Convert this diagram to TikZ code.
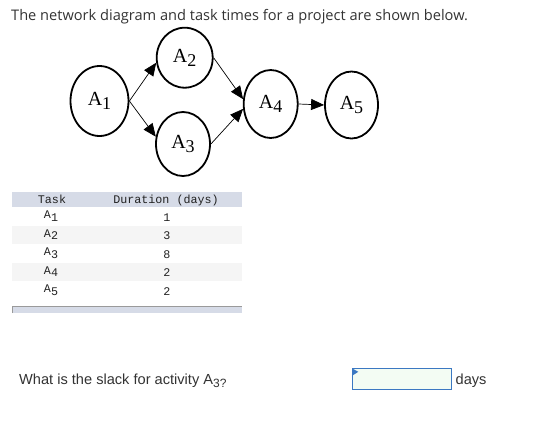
\documentclass[tikz,border=0pt]{standalone}
\usepackage{fontspec}
\setmainfont{Liberation Sans}
\newfontfamily\titlefont{Open Sans}
\newfontfamily\serifA{Liberation Serif}
\newfontfamily\monof{Liberation Mono}
\usetikzlibrary{shapes.geometric,arrows.meta}
\definecolor{txt}{HTML}{333333}
\definecolor{monotxt}{HTML}{222222}
\definecolor{hdr}{HTML}{D6DBE7}
\definecolor{rowgray}{HTML}{F5F5F5}
\definecolor{barline}{HTML}{9A9A9A}
\definecolor{boxblue}{HTML}{3B78C2}
\definecolor{boxgreen}{HTML}{F3FCF3}
\tikzset{
  actnode/.style={ellipse, draw, line width=1.8pt, inner sep=0pt,
    font=\serifA\fontsize{20}{20}\selectfont},
  flow/.style={-{Triangle[length=13pt,width=11pt]}, line width=0.7pt},
  mono/.style={font=\monof\fontsize{11.7}{13}\selectfont, text=monotxt, inner sep=0pt, anchor=base},
  sanstext/.style={font=\fontsize{14.6}{17}\selectfont, text=txt, inner sep=0pt, anchor=base west}
}
\newcommand{\actlab}[1]{A\raisebox{-4pt}{\fontsize{18}{18}\selectfont #1}}
\newcommand{\tasklab}[1]{A\raisebox{-2.5pt}{#1}}
\begin{document}
\begin{tikzpicture}[x=1pt,y=-1pt]
\useasboundingbox (0,0) rectangle (541,424);
\fill[white] (0,0) rectangle (541,424);

% title
\node[anchor=base west, inner sep=0pt, text=txt, font=\titlefont\fontsize{14.6}{18}\selectfont] (title) at (11,20.5)
  {The network diagram and task times for a project are shown below.};

% network
\node[actnode, minimum width=58pt, minimum height=70pt] (A1) at (99.5,101) {\actlab{1}};
\node[actnode, minimum width=56pt, minimum height=60pt] (A2) at (184.7,57.7) {\actlab{2}};
\node[actnode, minimum width=54pt, minimum height=64pt] (A3) at (183,144) {\actlab{3}};
\node[actnode, minimum width=54pt, minimum height=68pt] (A4) at (270.7,104) {\actlab{4}};
\node[actnode, minimum width=53pt, minimum height=67pt] (A5) at (351.5,105) {\actlab{5}};

\draw[flow] (A1.east) -- (A2.190);
\draw[flow] (A1.east) -- (A3.165);
\draw[flow] (A2.east) -- (A4.170);
\draw[flow] (A3.east) -- (A4.190);
\draw[flow] (A4.east) -- (A5.west);

% table
\fill[hdr] (12,192) rectangle (242,207);
\fill[rowgray] (12,226) rectangle (242,244);
\fill[rowgray] (12,263) rectangle (242,281);
\node[mono] (hTask) at (52,203) {Task};
\node[mono] (hDur) at (166,203) {Duration (days)};
\node[mono] (t1) at (51,218.5) {\tasklab{1}};
\node[mono] (t2) at (51,237) {\tasklab{2}};
\node[mono] (t3) at (51,255.5) {\tasklab{3}};
\node[mono] (t4) at (51,274) {\tasklab{4}};
\node[mono] (t5) at (51,292.5) {\tasklab{5}};
\node[mono] (d1) at (167,221) {1};
\node[mono] (d2) at (167,239.5) {3};
\node[mono] (d3) at (167,258) {8};
\node[mono] (d4) at (167,276.5) {2};
\node[mono] (d5) at (167,295) {2};
\fill[hdr] (12,307) rectangle (242,313);
\draw[barline, line width=1pt] (12.5,313) -- (12.5,306.5) -- (242,306.5);

% question
\node[sanstext] (q) at (19,384) {What is the slack for activity A\raisebox{-3.5pt}{\fontsize{12}{12}\selectfont 3?}};
\node[draw=boxblue, fill=boxgreen, line width=1pt, minimum width=99pt, minimum height=21pt,
      inner sep=0pt, anchor=north west] (ans) at (352,368) {};
\fill[boxblue] ([xshift=0.8pt,yshift=-0.8pt]ans.north west) -- ++(0,6.5) -- ++(5.5,-3.5) -- cycle;
\node[sanstext] (days) at (455.5,384) {days};
\end{tikzpicture}
\end{document}
